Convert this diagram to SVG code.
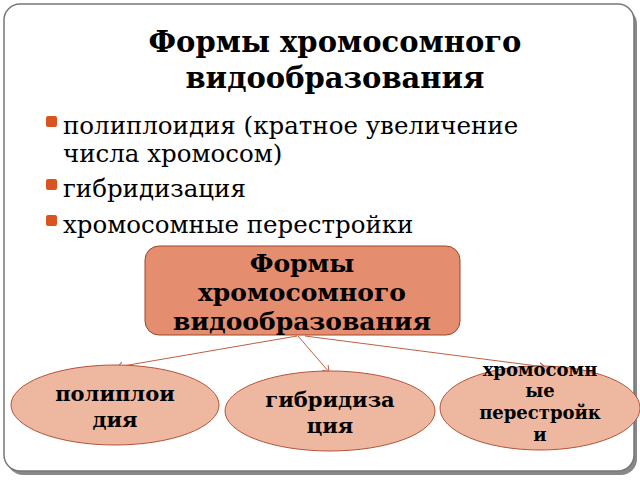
<svg xmlns="http://www.w3.org/2000/svg" width="640" height="480" viewBox="0 0 640 480">
<defs>
<style>
.t{font-family:"DejaVu Serif","Liberation Serif",serif;fill:#000}
.b{font-weight:bold;text-anchor:middle}
.ell{fill:#eeb8a0;stroke:#b5533a;stroke-width:1}
.ln{stroke:#c0603f;stroke-width:1;fill:none;marker-end:url(#a)}
</style>
<marker id="a" markerWidth="8" markerHeight="8" refX="6" refY="4" orient="auto" markerUnits="userSpaceOnUse"><path d="M0,0 L6,4 L0,8" fill="none" stroke="#c0603f"/></marker>
</defs>
<rect width="640" height="480" fill="#fff"/>
<rect x="7" y="8" width="630" height="467" rx="16" fill="#888"/>
<rect x="4" y="4" width="630" height="467" rx="16" fill="#fff" stroke="#777" stroke-width="1.5"/>
<text class="t b" x="335" y="52" font-size="29">Формы хромосомного</text>
<text class="t b" x="335" y="88" font-size="29">видообразования</text>
<g fill="#d9541e">
<rect x="46" y="116" width="11" height="11" rx="2"/>
<rect x="46" y="179" width="11" height="11" rx="2"/>
<rect x="46" y="215" width="11" height="11" rx="2"/>
</g>
<g class="t" font-size="24.5">
<text x="63" y="134">полиплоидия (кратное увеличение</text>
<text x="63" y="162">числа хромосом)</text>
<text x="63" y="197">гибридизация</text>
<text x="63" y="233">хромосомные перестройки</text>
</g>
<g id="connectors">
<line class="ln" x1="297" y1="336" x2="117" y2="367"/>
<line class="ln" x1="298" y1="336" x2="329" y2="372"/>
<line class="ln" x1="305" y1="336" x2="545" y2="367"/>
</g>
<g id="main">
<rect x="145" y="246" width="315" height="89" rx="14" fill="#e58e6f" stroke="#a0442a"/>
<g class="t b" font-size="25"><text x="302" y="272">Формы</text><text x="302" y="301">хромосомного</text><text x="302" y="330">видообразования</text></g>
</g>
<g id="n1"><ellipse class="ell" cx="115" cy="405" rx="104" ry="40"/>
<g class="t b" font-size="21"><text x="115" y="401">полиплои</text><text x="115" y="427">дия</text></g></g>
<g id="n2"><ellipse class="ell" cx="330" cy="411" rx="105" ry="40"/>
<g class="t b" font-size="21"><text x="330" y="407">гибридиза</text><text x="330" y="433">ция</text></g></g>
<g id="n3"><ellipse class="ell" cx="540" cy="408" rx="100" ry="42"/>
<g class="t b" font-size="18"><text x="540" y="376">хромосомн</text><text x="540" y="397">ые</text><text x="540" y="419">перестройк</text><text x="540" y="441">и</text></g></g>
</svg>
